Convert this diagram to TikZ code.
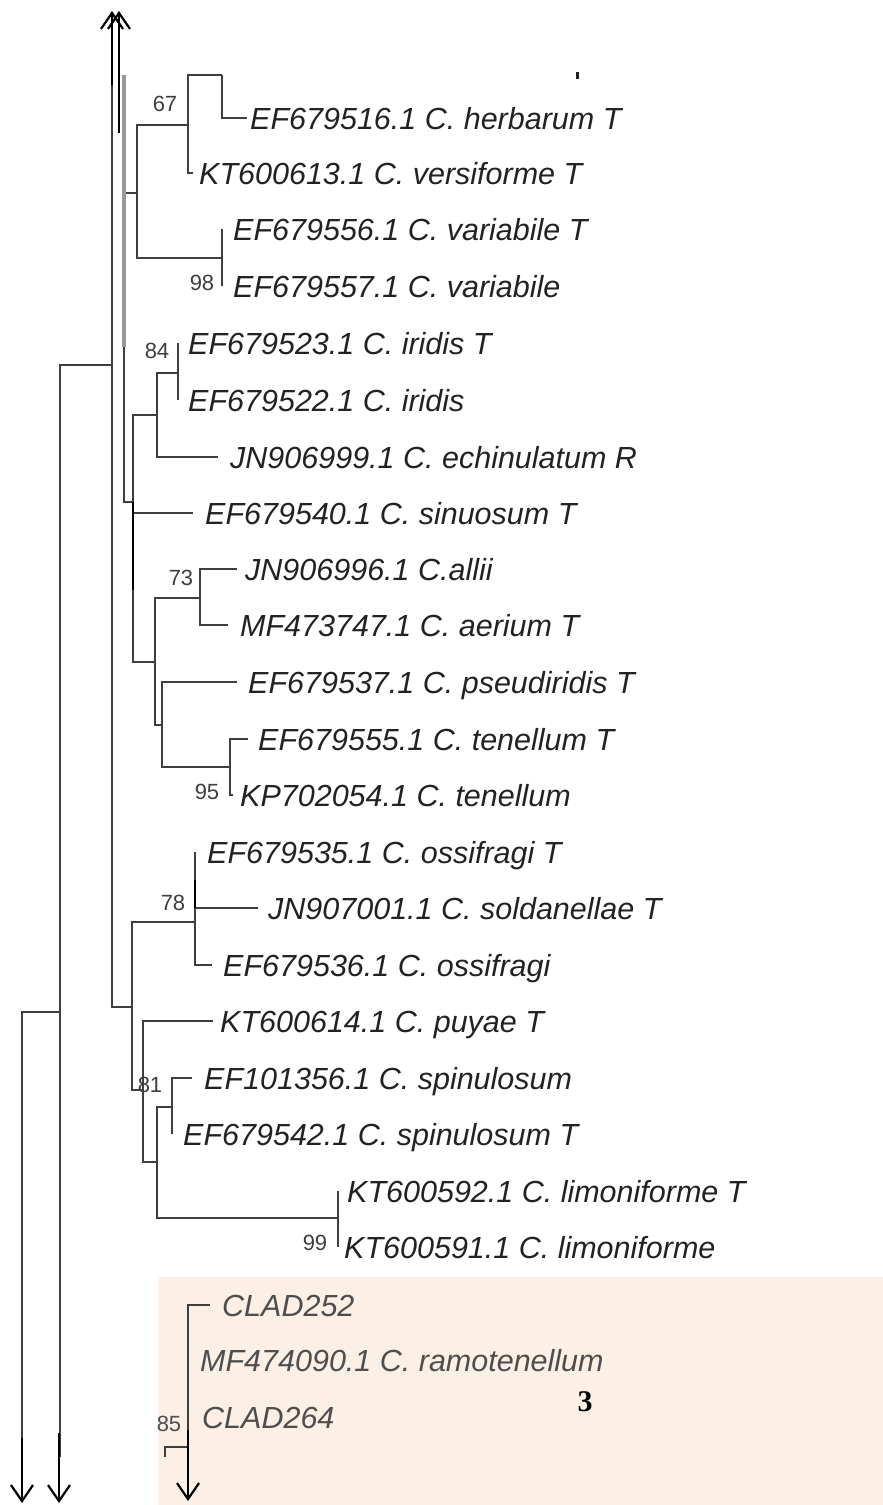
\documentclass[tikz,border=0pt]{standalone}
\usepackage{fontspec}
\usetikzlibrary{arrows.meta}
\newfontfamily\treefont{Liberation Sans}
\newfontfamily\markfont{Liberation Serif}
\definecolor{branchgrey}{RGB}{62,62,62}
\definecolor{leafink}{RGB}{34,34,34}
\definecolor{cladeink}{RGB}{78,78,78}
\definecolor{cladepink}{RGB}{252,239,229}

\begin{document}
\begin{tikzpicture}[x=1pt, y=-1pt, line join=miter, line cap=butt,
	br/.style={draw=branchgrey, line width=1.8pt},
	leaf/.style={anchor=west, inner sep=0pt, text height=22pt, text depth=0pt, text=leafink,
		font=\treefont\itshape\fontsize{30.5}{32}\selectfont},
	cladeleaf/.style={leaf, text=cladeink},
	boot/.style={inner sep=0pt, text=branchgrey, font=\treefont\fontsize{22}{22}\selectfont},
	pointer/.style={draw=black, line width=2.4pt, -{Straight Barb[length=16pt, width=22pt, line width=2.2pt]}}]
	\useasboundingbox (0,0) rectangle (883,1505);
	
	% 1. Vùng nền của nhánh cuối
	\fill[cladepink] (158,1277) rectangle (883,1505);
	
	% 2. Tên các mẫu
	\node[leaf] (herb) at (250,118) {EF679516.1 C. herbarum T};
	\node[leaf] (vers) at (199,173) {KT600613.1 C. versiforme T};
	\node[leaf] (varT) at (233,229) {EF679556.1 C. variabile T};
	\node[leaf] (var) at (233,286) {EF679557.1 C. variabile};
	\node[leaf] (iriT) at (188,343) {EF679523.1 C. iridis T};
	\node[leaf] (iri) at (188,400) {EF679522.1 C. iridis};
	\node[leaf] (echi) at (230,457) {JN906999.1 C. echinulatum R};
	\node[leaf] (sinu) at (205,513) {EF679540.1 C. sinuosum T};
	\node[leaf] (alli) at (245,569) {JN906996.1 C.allii};
	\node[leaf] (aeri) at (240,625) {MF473747.1 C. aerium T};
	\node[leaf] (pseu) at (248,682) {EF679537.1 C. pseudiridis T};
	\node[leaf] (tenT) at (258,739) {EF679555.1 C. tenellum T};
	\node[leaf] (ten) at (240,795) {KP702054.1 C. tenellum};
	\node[leaf] (ossT) at (207,852) {EF679535.1 C. ossifragi T};
	\node[leaf] (sold) at (268,908) {JN907001.1 C. soldanellae T};
	\node[leaf] (oss) at (223,965) {EF679536.1 C. ossifragi};
	\node[leaf] (puya) at (220,1021) {KT600614.1 C. puyae T};
	\node[leaf] (spi) at (204,1078) {EF101356.1 C. spinulosum};
	\node[leaf] (spiT) at (183,1134) {EF679542.1 C. spinulosum T};
	\node[leaf] (limT) at (347,1191) {KT600592.1 C. limoniforme T};
	\node[leaf] (lim) at (344,1247) {KT600591.1 C. limoniforme};
	\node[cladeleaf] (cl252) at (222,1305) {CLAD252};
	\node[cladeleaf] (ramo) at (200,1360) {MF474090.1 C. ramotenellum};
	\node[cladeleaf] (cl264) at (202,1417) {CLAD264};
	\fill[leafink] (576,72) rectangle (579,79);
	
	% 3. Các nút trong cây
	\coordinate (cutR) at (22,1457);
	\coordinate (cutL) at (60,1457);
	\coordinate (nL) at (60,1012);
	\coordinate (cutT) at (112,75);
	\coordinate (jT) at (112,365);
	\coordinate (cutA) at (124,75);
	\coordinate (n137) at (137,193);
	\coordinate (n67) at (188,125);
	\coordinate (nH) at (222,75);
	\coordinate (n98) at (222,258);
	\coordinate (nB) at (133,502);
	\coordinate (n84p) at (157,415);
	\coordinate (n84) at (178,373);
	\coordinate (nC) at (155,662);
	\coordinate (n73) at (200,598);
	\coordinate (nD) at (162,725);
	\coordinate (n95) at (230,767);
	\coordinate (nE) at (132,1007);
	\coordinate (n78) at (195,922);
	\coordinate (n81) at (143,1090);
	\coordinate (nF) at (157,1162);
	\coordinate (nG) at (172,1107);
	\coordinate (n99) at (338,1218);
	\coordinate (cutCl) at (188,1457);
	\coordinate (brk) at (165,1457);
	
	% 4. Nhánh
	\draw[br] (cutR) |- (nL);
	\draw[br] (cutL) |- (jT);
	\draw[br] (cutT) |- (nE);
	\draw[br] (cutA) |- (n137);
	\draw[br] (cutA) |- (nB);
	\draw[br] (n137) |- (n67);
	\draw[br] (n137) |- (n98);
	\draw[br] (n67) |- (nH);
	\draw[br] (nH) |- ([xshift=-3pt]herb.west);
	\draw[br] (n67) |- ([xshift=-6pt]vers.west);
	\draw[br] (n98) -- (n98 |- varT.west);
	\draw[br] (n98) -- (n98 |- var.west);
	\draw[br] (nB) |- (n84p);
	\draw[br] (nB) |- ([xshift=-12pt]sinu.west);
	\draw[br] (nB) |- (nC);
	\draw[br] (n84p) |- (n84);
	\draw[br] (n84p) |- ([xshift=-12pt]echi.west);
	\draw[br] (n84) -- (n84 |- iriT.west);
	\draw[br] (n84) -- (n84 |- iri.west);
	\draw[br] (nC) |- (n73);
	\draw[br] (nC) |- (nD);
	\draw[br] (n73) |- ([xshift=-8pt]alli.west);
	\draw[br] (n73) |- ([xshift=-12pt]aeri.west);
	\draw[br] (nD) |- ([xshift=-11pt]pseu.west);
	\draw[br] (nD) |- (n95);
	\draw[br] (n95) |- ([xshift=-10pt]tenT.west);
	\draw[br] (n95) |- ([xshift=-7pt]ten.west);
	\draw[br] (nE) |- (n78);
	\draw[br] (nE) |- (n81);
	\draw[br] (n78) -- (n78 |- ossT.west);
	\draw[br] (n78) |- ([xshift=-10pt]sold.west);
	\draw[br] (n78) |- ([xshift=-11pt]oss.west);
	\draw[br] (n81) |- ([xshift=-7pt]puya.west);
	\draw[br] (n81) |- (nF);
	\draw[br] (nF) |- (nG);
	\draw[br] (nF) |- (n99);
	\draw[br] (nG) |- ([xshift=-12pt]spi.west);
	\draw[br] (nG) -- (nG |- spiT.west);
	\draw[br] (n99) -- (n99 |- limT.west);
	\draw[br] (n99) -- (n99 |- lim.west);
	\draw[br] (cutCl) |- ([xshift=-12pt]cl252.west);
	\draw[br] (brk) |- (cutCl |- 0,1447);
	
	% đoạn đậm
	\draw[line width=4pt, gray!80] (cutA) -- (124,347);
	\draw[line width=2.6pt, black] (nB) -- (133,590);
	\draw[line width=2.6pt, black] (195,880) -- (n78 |- sold.west);
	
	% 5. Giá trị bootstrap
	\node[boot] (b67) at (165,104) {67};
	\node[boot] (b98) at (202,283) {98};
	\node[boot] (b84) at (157,351) {84};
	\node[boot] (b73) at (181,578) {73};
	\node[boot] (b95) at (207,792) {95};
	\node[boot] (b78) at (173,903) {78};
	\node[boot] (b81) at (150,1085) {81};
	\node[boot] (b99) at (315,1243) {99};
	\node[boot, text=cladeink] (b85) at (169,1424) {85};
	\node[font=\markfont\bfseries\fontsize{30}{30}\selectfont] (cladeno) at (585,1402) {3};
	
	% 6. Mũi tên
	\coordinate (upA) at (112,85);
	\coordinate (upB) at (119,133);
	\coordinate (dnA) at (22,1438);
	\coordinate (dnB) at (59,1433);
	\coordinate (dnC) at (188,1430);
	\draw[pointer] (upA) -- (112,11);
	\draw[pointer] (upB) -- (119,11);
	\draw[pointer] (dnA) -- (22,1503);
	\draw[pointer] (dnB) -- (59,1503);
	\draw[pointer] (dnC) -- (188,1501);
\end{tikzpicture}
\end{document}
